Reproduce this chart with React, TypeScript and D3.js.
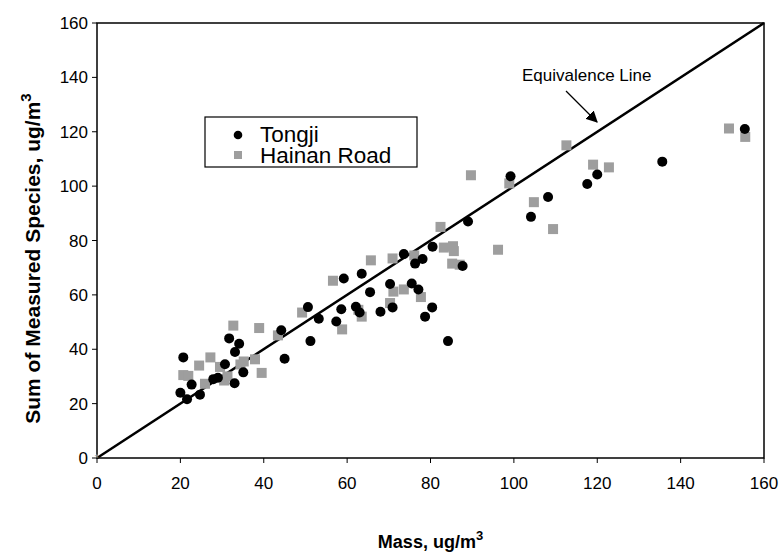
import React from "react";
import * as d3 from "d3";

const tongjiX = [20, 20.7, 21.6, 22.7, 24.7, 27.9, 29, 30.7, 31.7, 33.1, 33, 34.1, 35.1, 44.2, 45, 50.6, 51.2, 53.2, 57.4, 58.6, 59.2, 62.1, 63, 63.5, 65.5, 68, 70.3, 70.9, 73.6, 75.5, 76.3, 77.1, 78.1, 78.7, 80.4, 80.5, 84.2, 87.7, 89, 99.2, 104.1, 108.2, 117.6, 120, 135.6, 155.4];
const tongjiY = [24, 37, 21.6, 27, 23.3, 29, 29.5, 34.5, 44, 39, 27.5, 42, 31.5, 47, 36.5, 55.5, 43, 51.2, 50.2, 54.7, 66, 55.6, 53.5, 67.8, 61, 53.8, 64, 55.4, 75, 64.2, 71.5, 62, 73.2, 52, 55.4, 77.7, 43, 70.6, 87, 103.6, 88.7, 96, 100.8, 104.3, 109, 121];

const hainanX = [20.7, 21.9, 24.5, 25.9, 27.2, 29.5, 30.5, 31.3, 32.7, 34.4, 35.2, 37.9, 38.9, 39.5, 43.4, 49.2, 56.6, 58.8, 62.7, 63.5, 65.7, 70.3, 70.9, 71.1, 73.6, 76.1, 77.7, 82.4, 83.2, 85.4, 85.6, 85.2, 87, 89.7, 96.2, 98.9, 104.8, 109.4, 112.6, 119, 122.8, 151.6, 155.5];
const hainanY = [30.5, 30.2, 34, 27.3, 37, 33.5, 28.5, 30, 48.7, 34.4, 35.5, 36.3, 47.8, 31.3, 45.1, 53.5, 65.2, 47.3, 54.5, 52, 72.7, 57, 73.4, 61.2, 62, 74.5, 59.2, 85, 77.4, 77.9, 76.1, 71.5, 71.1, 104, 76.6, 101, 94.1, 84.2, 115, 107.9, 106.9, 121.2, 118.1];

const xTicks = [0, 20, 40, 60, 80, 100, 120, 140, 160];
const yTicks = [0, 20, 40, 60, 80, 100, 120, 140, 160];
const seriesNames = ["Tongji", "Hainan Road"];

const W = 781, H = 555;
const L = 97, R = 764, T = 23, B = 458;
const FONT = "Liberation Sans, Arial, sans-serif";
const GRAY = "#9e9e9e";

export default function App() {
  const x = d3.scaleLinear().domain([0, 160]).range([L, R]);
  const y = d3.scaleLinear().domain([0, 160]).range([B, T]);
  const line = d3.line<[number, number]>().x(d => x(d[0])).y(d => y(d[1]));
  const tongji = tongjiX.map((v, i) => [v, tongjiY[i]] as [number, number]);
  const hainan = hainanX.map((v, i) => [v, hainanY[i]] as [number, number]);
  const s = 10;
  return (
    <svg width={W} height={H} style={{ position: "absolute", left: 0, top: 0, background: "#fff" }} fontFamily={FONT}>
      <defs>
        <marker id="ah" viewBox="0 0 10 10" refX="9" refY="5" markerWidth="9" markerHeight="9" orient="auto">
          <path d="M0,0 L10,5 L0,10 z" fill="#000" />
        </marker>
      </defs>
      <rect x={L} y={T} width={R - L} height={B - T} fill="none" stroke="#000" strokeWidth={1.5} />
      {xTicks.map(t => (
        <g key={"x" + t}>
          <line x1={x(t)} x2={x(t)} y1={B} y2={B + 5} stroke="#000" strokeWidth={1} />
          <text x={x(t)} y={B + 31} textAnchor="middle" fontSize={17}>{t}</text>
        </g>
      ))}
      {yTicks.map(t => (
        <g key={"y" + t}>
          <line x1={L - 5} x2={L} y1={y(t)} y2={y(t)} stroke="#000" strokeWidth={1} />
          <text x={L - 9} y={y(t) + 6} textAnchor="end" fontSize={17}>{t}</text>
        </g>
      ))}
      <path d={line([[0, 0], [160, 160]]) || ""} stroke="#000" strokeWidth={2.5} fill="none" />
      {hainan.map((d, i) => (
        <rect key={"h" + i} x={x(d[0]) - s / 2} y={y(d[1]) - s / 2} width={s} height={s} fill={GRAY} />
      ))}
      {tongji.map((d, i) => (
        <circle key={"t" + i} cx={x(d[0])} cy={y(d[1])} r={5} fill="#000" />
      ))}
      <text x={x(0)} y={y(0) + 4} textAnchor="middle" fontSize={11} fill={GRAY}>*</text>
      <rect x={205} y={117} width={212} height={50} fill="#fff" stroke="#000" strokeWidth={1.2} />
      <circle cx={238} cy={135} r={4.3} fill="#000" />
      <rect x={234} y={151} width={8} height={8} fill={GRAY} />
      <text x={260} y={142} fontSize={22.5}>{seriesNames[0]}</text>
      <text x={260} y={163} fontSize={22.5}>{seriesNames[1]}</text>
      <text x={522} y={81} fontSize={17}>Equivalence Line</text>
      <line x1={566} y1={91} x2={597} y2={122} stroke="#000" strokeWidth={1.3} markerEnd="url(#ah)" />
      <text x={(L + R) / 2} y={548} textAnchor="middle" fontSize={18} fontWeight="bold">
        Mass, ug/m<tspan dy={-8} fontSize={13}>3</tspan>
      </text>
      <text transform={`translate(40,${(T + B) / 2 + 18}) rotate(-90)`} textAnchor="middle" fontSize={21} fontWeight="bold">
        Sum of Measured Species, ug/m<tspan dy={-9} fontSize={15}>3</tspan>
      </text>
    </svg>
  );
}
